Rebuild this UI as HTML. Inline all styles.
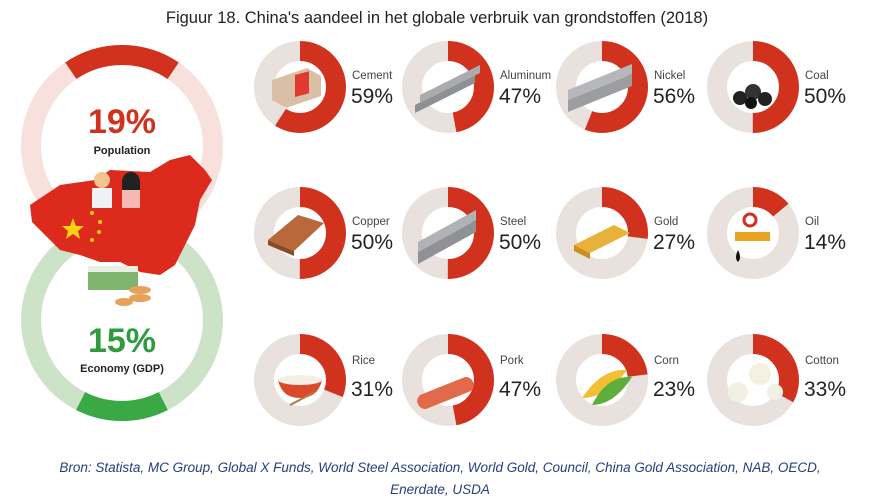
<!DOCTYPE html>
<html><head><meta charset="utf-8"><style>
body{margin:0;background:#fff;width:878px;height:501px;overflow:hidden}
svg{display:block}
.l{font:11.5px "Liberation Sans",sans-serif;fill:#444}
.p{font:21px "Liberation Sans",sans-serif;fill:#222}
</style></head><body>
<svg width="878" height="501" viewBox="0 0 878 501">
<text x="437" y="23" text-anchor="middle" style="font:16.5px 'Liberation Sans',sans-serif;fill:#222">Figuur 18. China's aandeel in het globale verbruik van grondstoffen (2018)</text>

<circle cx="122" cy="146" r="91" fill="none" stroke="#f8e1dc" stroke-width="20"/>
<circle cx="122" cy="146" r="91" fill="none" stroke="#d0321e" stroke-width="20" stroke-dasharray="108.6 600" transform="rotate(-124.2 122 146)"/>
<circle cx="122" cy="320" r="91" fill="none" stroke="#cde3c7" stroke-width="20"/>
<circle cx="122" cy="320" r="91" fill="none" stroke="#3aa845" stroke-width="20" stroke-dasharray="85.8 600" transform="rotate(63 122 320)"/>
<text x="122" y="133" text-anchor="middle" style="font:bold 34px 'Liberation Sans',sans-serif;fill:#d0321e">19%</text>
<text x="122" y="154" text-anchor="middle" style="font:bold 11px 'Liberation Sans',sans-serif;fill:#222">Population</text>
<path d="M30,205 L60,185 L95,180 L110,170 L150,172 L170,160 L190,155 L205,170 L212,180 L200,200 L195,225 L185,245 L175,265 L160,275 L140,272 L120,262 L100,262 L80,255 L60,250 L45,235 L32,222 Z" fill="#dc2a1c"/>
<polygon points="73,218 76,226 84,226 78,231 80,239 73,234 66,239 68,231 62,226 70,226" fill="#f5d312"/>
<circle cx="92" cy="213" r="2" fill="#f5d312"/><circle cx="100" cy="222" r="2" fill="#f5d312"/><circle cx="99" cy="232" r="2" fill="#f5d312"/><circle cx="92" cy="240" r="2" fill="#f5d312"/>
<circle cx="102" cy="180" r="8" fill="#f3c48e"/><rect x="92" y="188" width="20" height="20" fill="#eef1f5"/>
<circle cx="131" cy="182" r="8" fill="#f3c48e"/><path d="M122,182 a9,10 0 0 1 18,0 v12 h-18z" fill="#222"/><rect x="122" y="190" width="18" height="18" fill="#f6b9b2"/>
<rect x="88" y="270" width="50" height="20" fill="#7fb46e"/><rect x="88" y="266" width="50" height="6" fill="#e8efe3"/>
<ellipse cx="140" cy="298" rx="11" ry="4" fill="#e7a25a"/><ellipse cx="140" cy="290" rx="11" ry="4" fill="#e7a25a"/><ellipse cx="124" cy="302" rx="9" ry="4" fill="#e7a25a"/>
<text x="122" y="352" text-anchor="middle" style="font:bold 34px 'Liberation Sans',sans-serif;fill:#2f9a3e">15%</text>
<text x="122" y="372" text-anchor="middle" style="font:bold 11px 'Liberation Sans',sans-serif;fill:#222">Economy (GDP)</text>

<g fill="none" stroke-width="20">
<circle cx="300" cy="87" r="36" stroke="#e9e1dd"/><circle cx="300" cy="87" r="36" stroke="#d0321e" stroke-dasharray="133.5 300" transform="rotate(-90 300 87)"/>
<circle cx="448" cy="87" r="36" stroke="#e9e1dd"/><circle cx="448" cy="87" r="36" stroke="#d0321e" stroke-dasharray="106.3 300" transform="rotate(-90 448 87)"/>
<circle cx="602" cy="87" r="36" stroke="#e9e1dd"/><circle cx="602" cy="87" r="36" stroke="#d0321e" stroke-dasharray="126.7 300" transform="rotate(-90 602 87)"/>
<circle cx="753" cy="87" r="36" stroke="#e9e1dd"/><circle cx="753" cy="87" r="36" stroke="#d0321e" stroke-dasharray="113.1 300" transform="rotate(-90 753 87)"/>
<circle cx="300" cy="233" r="36" stroke="#e9e1dd"/><circle cx="300" cy="233" r="36" stroke="#d0321e" stroke-dasharray="113.1 300" transform="rotate(-90 300 233)"/>
<circle cx="448" cy="233" r="36" stroke="#e9e1dd"/><circle cx="448" cy="233" r="36" stroke="#d0321e" stroke-dasharray="113.1 300" transform="rotate(-90 448 233)"/>
<circle cx="602" cy="233" r="36" stroke="#e9e1dd"/><circle cx="602" cy="233" r="36" stroke="#d0321e" stroke-dasharray="61.1 300" transform="rotate(-90 602 233)"/>
<circle cx="753" cy="233" r="36" stroke="#e9e1dd"/><circle cx="753" cy="233" r="36" stroke="#d0321e" stroke-dasharray="31.7 300" transform="rotate(-90 753 233)"/>
<circle cx="300" cy="380" r="36" stroke="#e9e1dd"/><circle cx="300" cy="380" r="36" stroke="#d0321e" stroke-dasharray="70.1 300" transform="rotate(-90 300 380)"/>
<circle cx="448" cy="380" r="36" stroke="#e9e1dd"/><circle cx="448" cy="380" r="36" stroke="#d0321e" stroke-dasharray="106.3 300" transform="rotate(-90 448 380)"/>
<circle cx="602" cy="380" r="36" stroke="#e9e1dd"/><circle cx="602" cy="380" r="36" stroke="#d0321e" stroke-dasharray="52 300" transform="rotate(-90 602 380)"/>
<circle cx="753" cy="380" r="36" stroke="#e9e1dd"/><circle cx="753" cy="380" r="36" stroke="#d0321e" stroke-dasharray="74.6 300" transform="rotate(-90 753 380)"/>
</g>

<g>
<path d="M272,80 l35,-12 l14,8 v20 l-35,12 l-14,-8z" fill="#d8bfa5"/><rect x="295" y="74" width="14" height="22" fill="#e03a30" transform="skewY(-15) translate(0,80)"/>
<path d="M415,105 l60,-30 v8 l-60,30z" fill="#8d8f92"/><path d="M420,95 l60,-30 v8 l-60,30z" fill="#a9abae"/>
<path d="M568,100 l64,-26 v12 l-64,26z" fill="#9b9da0"/><path d="M568,90 l64,-26 v10 l-64,26z" fill="#b5b7ba"/>
<circle cx="740" cy="98" r="7" fill="#222"/><circle cx="753" cy="92" r="8" fill="#333"/><circle cx="765" cy="99" r="7" fill="#222"/><circle cx="751" cy="103" r="6" fill="#111"/>
<path d="M268,240 l30,-25 l26,8 l-30,28z" fill="#b8683a"/><path d="M268,240 l26,11 v5 l-26,-11z" fill="#8a4a26"/>
<path d="M418,252 l58,-32 v12 l-58,32z" fill="#8f9194"/><path d="M418,242 l58,-32 v10 l-58,32z" fill="#b0b2b5"/>
<path d="M574,245 l40,-20 l16,8 l-40,20z" fill="#e8b23a"/><path d="M574,245 l16,8 v6 l-16,-8z" fill="#c98f1f"/>
<rect x="735" y="232" width="35" height="9" fill="#e8a420"/><circle cx="750" cy="220" r="6" fill="none" stroke="#d0321e" stroke-width="3"/><path d="M738,250 q-4,8 0,12 q4,-4 0,-12z" fill="#111"/>
<path d="M278,380 h44 q-4,18 -22,18 q-18,0 -22,-18z" fill="#d94a2a"/><ellipse cx="300" cy="380" rx="22" ry="5" fill="#f4efe6"/><line x1="290" y1="405" x2="315" y2="392" stroke="#b07a4a" stroke-width="2"/>
<path d="M420,395 l45,-18 a8,8 0 0 1 6,14 l-45,18 a8,8 0 0 1 -6,-14z" fill="#e26a4a"/>
<path d="M582,398 q20,-30 45,-28 q-20,28 -45,28z" fill="#f3c033"/><path d="M592,405 q15,-30 40,-28 q-18,28 -40,28z" fill="#5dae3a"/>
<circle cx="738" cy="392" r="10" fill="#f2f0e4"/><circle cx="760" cy="374" r="11" fill="#f4f1e2"/><circle cx="775" cy="392" r="8" fill="#f2f0e4"/>
</g>

<g>
<text class="l" x="352" y="79">Cement</text><text class="p" x="351" y="103">59%</text>
<text class="l" x="500" y="79">Aluminum</text><text class="p" x="499" y="103">47%</text>
<text class="l" x="654" y="79">Nickel</text><text class="p" x="653" y="103">56%</text>
<text class="l" x="805" y="79">Coal</text><text class="p" x="804" y="103">50%</text>
<text class="l" x="352" y="225">Copper</text><text class="p" x="351" y="249">50%</text>
<text class="l" x="500" y="225">Steel</text><text class="p" x="499" y="249">50%</text>
<text class="l" x="654" y="225">Gold</text><text class="p" x="653" y="249">27%</text>
<text class="l" x="805" y="225">Oil</text><text class="p" x="804" y="249">14%</text>
<text class="l" x="352" y="364">Rice</text><text class="p" x="351" y="396">31%</text>
<text class="l" x="500" y="364">Pork</text><text class="p" x="499" y="396">47%</text>
<text class="l" x="654" y="364">Corn</text><text class="p" x="653" y="396">23%</text>
<text class="l" x="805" y="364">Cotton</text><text class="p" x="804" y="396">33%</text>
</g>

<text x="440" y="472" text-anchor="middle" style="font:italic 13.5px 'Liberation Sans',sans-serif;fill:#24407a">Bron: Statista, MC Group, Global X Funds, World Steel Association, World Gold, Council, China Gold Association, NAB, OECD,</text>
<text x="440" y="494" text-anchor="middle" style="font:italic 13.5px 'Liberation Sans',sans-serif;fill:#24407a">Enerdate, USDA</text>
</svg>
</body></html>
